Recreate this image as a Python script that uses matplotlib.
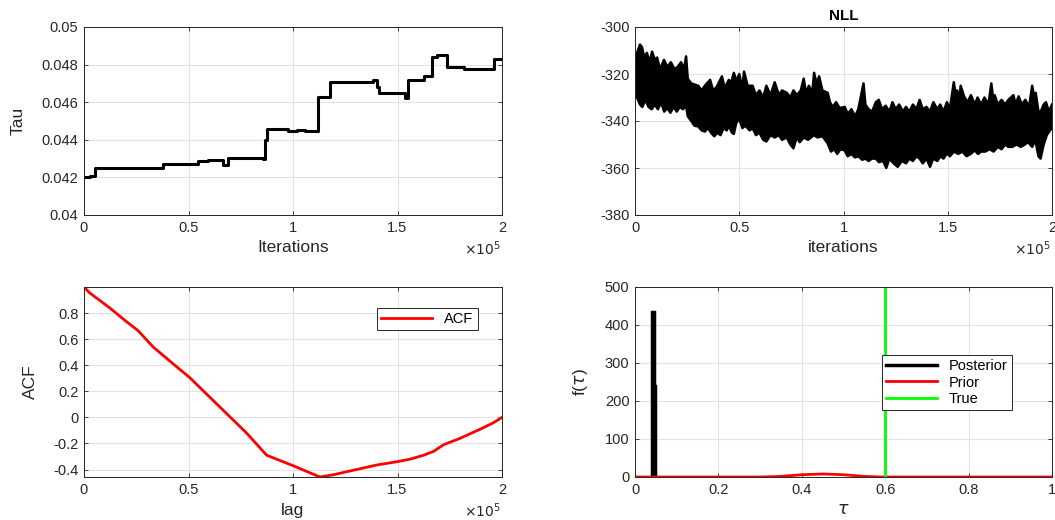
import numpy as np
import matplotlib.pyplot as plt
from matplotlib.ticker import FuncFormatter

plt.rcParams['font.family'] = ['Liberation Sans', 'DejaVu Sans']
plt.rcParams['axes.unicode_minus'] = False

# Tau trace (step changes): iteration, value
tau_it = [0, 2700, 5100, 38000, 54600, 59400, 66600, 69000, 85800, 86600, 87600,
          97800, 101800, 105700, 112100, 117700, 130500, 138500, 140000, 141000,
          153700, 154800, 162500, 166500, 169000, 173700, 181600, 196000, 200000]
tau_val = [0.0420, 0.04205, 0.0425, 0.0427, 0.04285, 0.0429, 0.04268, 0.04305,
           0.0430, 0.0440, 0.04458, 0.04448, 0.0445, 0.04445, 0.0463, 0.0471,
           0.04705, 0.0472, 0.0468, 0.04649, 0.0462, 0.0472, 0.0474, 0.04838,
           0.04852, 0.04785, 0.04775, 0.04832, 0.04832]

# NLL trace envelope (upper / lower), iteration in thousands
nll_up_k = [0, 1.0, 2.4, 3.3, 4.5, 5.7, 7, 8.2, 9.5, 10.6, 12, 13.9, 15.5, 17.2, 19,
            20.4, 22.1, 23.5, 24.5, 25.3, 27, 30.3, 32, 33.5, 36.0, 37.5, 39.2, 41.7,
            43, 45.0, 46, 47.4, 48.7, 50, 51.5, 52.3, 54, 56.4, 58, 59.7, 61.5, 63, 65,
            67, 69, 70.5, 72.8, 74.5, 76, 77.7, 79.5, 80.9, 82, 83.4, 85, 85.9, 87,
            88.3, 89.9, 92.4, 93.5, 94.8, 96.5, 98.1, 100.6, 102, 103.8, 105.5, 107.1,
            109.6, 110.5, 112, 113.7, 115.5, 116.9, 118.5, 120.2, 122, 123.5, 125,
            126.7, 128.5, 130, 131.5, 133.3, 135, 136.5, 138, 139.8, 141.5, 143.1, 145,
            146.4, 148, 149.6, 151, 152.9, 154, 154.5, 155.5, 156.2, 157.8, 159.5,
            161.1, 163, 164.3, 166, 167.6, 169.5, 170.9, 171.7, 172.5, 174, 175.8,
            177.5, 179.1, 181.5, 182.5, 184, 185.5, 187.2, 189, 190.5, 191.5, 192.2,
            193.5, 194.6, 196, 197.1, 198.5, 200]
nll_up = [-321, -311, -307.5, -308.5, -313, -311, -315, -310.5, -314, -313, -318, -314,
          -317, -315, -318, -317, -315, -318, -312.5, -322, -324, -325, -327, -325,
          -322.5, -327, -325.5, -321, -326, -322.5, -324, -319.5, -323, -320, -326,
          -319, -325, -325, -329, -327, -330, -325, -329, -323.5, -329, -327, -328,
          -330, -327, -329, -327, -322, -328, -325, -328, -319.5, -324, -321, -327,
          -328, -332, -334, -332, -334.5, -334, -337, -335, -338, -335, -324, -333,
          -335, -336, -332, -331, -335, -333.5, -336, -332, -335, -333, -336, -334,
          -336, -333, -335, -331, -335, -334, -336, -332, -335, -333, -336, -332,
          -335, -323.5, -330, -327, -331, -325, -329.5, -332, -329, -333, -330, -333,
          -330, -333, -324, -330, -329, -333, -331, -333, -331, -329, -333, -329.5,
          -333, -331, -334, -325, -330, -328, -336, -336, -333, -332, -336, -333]
nll_lo_k = [0, 1, 2.4, 3.5, 5, 6.5, 8, 9.5, 11, 12.5, 14, 15.5, 17, 18.5, 20, 21.5, 23,
            24.5, 25.3, 27, 28.5, 30.3, 32, 33.5, 35, 36.5, 38, 39.5, 41, 42.5, 44, 45,
            46.5, 47.4, 48.5, 50, 51.5, 53, 55, 56.4, 58, 59.7, 61.5, 63, 65, 67, 69,
            70.5, 72.8, 74.5, 76, 77.5, 79, 80.9, 83, 85.9, 87.5, 89.9, 92.4, 94, 95.5,
            97, 98.5, 100.6, 102, 103.8, 105.5, 107.1, 109, 110.5, 112, 113.7, 115.5,
            117, 119, 120.5, 122, 124, 126, 128, 130, 131.5, 133.3, 135, 136.5, 138,
            139.8, 141.5, 143, 145, 146.5, 148, 149.6, 151, 153, 155, 157, 159, 161,
            163, 164.5, 166, 168, 170, 172, 174, 175.8, 177.5, 179, 181, 183, 185, 187,
            188.5, 190.5, 192, 193.5, 194.5, 196, 197.5, 199, 200]
nll_lo = [-327, -330, -333, -334, -331, -334, -335, -333, -335, -332, -336, -334.5,
          -336.5, -334, -336, -334, -335, -333.5, -338, -340, -342, -342.3, -344,
          -344.5, -343, -345, -346.5, -345, -346, -343, -344, -342, -345, -345.5, -341,
          -339, -343, -342, -344, -343, -346, -345, -348, -348.7, -346, -347, -346,
          -348, -347, -350, -351.6, -347, -349, -347, -348, -346, -347, -346.5, -349.5,
          -353, -352, -354, -352, -352.5, -355, -354, -355.5, -355, -356.5, -356, -357,
          -356, -356, -357.5, -357, -360, -356, -358, -359.5, -357, -358, -356, -357,
          -355, -356, -358, -356, -359.5, -356, -357, -355, -356, -353.7, -355, -353,
          -354, -353, -355, -354, -352.5, -354, -353, -353, -352, -353, -351, -352,
          -350, -351, -351, -350, -351, -350, -349, -351, -348, -355, -356, -350, -346,
          -344, -343]

# autocorrelation
lag = [0, 2700, 12300, 19500, 25900, 33100, 42700, 50600, 58600, 68200, 77800, 87400,
       100000, 112900, 119300, 128900, 140100, 149700, 156100, 162500, 167300, 172000,
       180000, 189600, 196000, 200000]
acf = [1.0, 0.955, 0.84, 0.745, 0.665, 0.54, 0.41, 0.305, 0.18, 0.03, -0.12, -0.29,
       -0.37, -0.457, -0.44, -0.405, -0.365, -0.34, -0.32, -0.29, -0.26, -0.21, -0.16,
       -0.09, -0.04, 0.0]

# densities
post_edges = [0.041, 0.046, 0.049]
post_dens = [435, 240]
prior_tau = [0, 0.30, 0.35, 0.40, 0.45, 0.50, 0.55, 0.59, 1.0]
prior_dens = [0, 0, 1.5, 6, 8, 6, 1.5, 0, 0]
tau_true = 0.6

W, H = 1055, 520
GRIS = '#262626'
fig = plt.figure(figsize=(W / 100, H / 100), dpi=100)


def caja(x0, y0, x1, y1):
    ax = fig.add_axes([x0 / W, 1 - y1 / H, (x1 - x0) / W, (y1 - y0) / H])
    ax.tick_params(direction='in', top=True, right=True, labelsize=10.5,
                   length=3, width=0.6, colors=GRIS, pad=4)
    for s in ax.spines.values():
        s.set_color(GRIS)
        s.set_linewidth(0.7)
    ax.grid(True, color='#e3e3e3', linewidth=0.8)
    ax.set_axisbelow(True)
    ax.alto = y1 - y0
    ax.ancho = x1 - x0
    return ax


def etiquetas(ax, xlabel, ylabel=None, ypx=60, escala=True):
    ax.set_xlabel(xlabel, fontsize=12.5, color=GRIS)
    ax.xaxis.set_label_coords(0.5, -33 / ax.alto)
    ax.xaxis.label.set_verticalalignment('center')
    if ylabel:
        ax.set_ylabel(ylabel, fontsize=12.5, color=GRIS)
        ax.yaxis.set_label_coords(-ypx / ax.ancho, 0.5)
        ax.yaxis.label.set_verticalalignment('center')
    if escala:
        ax.xaxis.set_major_formatter(FuncFormatter(lambda v, p: f'{v / 1e5:g}'))
        ax.text(0.997, -34 / ax.alto, r'$\times10^5$', transform=ax.transAxes,
                ha='right', va='center', fontsize=10, color=GRIS)


fmt_g = FuncFormatter(lambda v, p: f'{v:g}')

# Tau
ax1 = caja(84, 27, 502, 215)
ax1.step(tau_it, tau_val, where='post', color='black', linewidth=2.2)
ax1.set_xlim(0, 2e5)
ax1.set_ylim(0.04, 0.05)
ax1.set_xticks([0, 0.5e5, 1e5, 1.5e5, 2e5])
ax1.set_yticks([0.04, 0.042, 0.044, 0.046, 0.048, 0.05])
ax1.yaxis.set_major_formatter(fmt_g)
etiquetas(ax1, 'Iterations', 'Tau', ypx=66)

# NLL
ax2 = caja(635, 27, 1052, 215)
ux = np.array(nll_up_k) * 1000
lx = np.array(nll_lo_k) * 1000
ax2.fill(np.concatenate([ux, lx[::-1]]), np.concatenate([nll_up, nll_lo[::-1]]),
         color='black', linewidth=0)
ax2.plot(ux, nll_up, color='black', linewidth=1.8)
ax2.plot(lx, nll_lo, color='black', linewidth=1.8)
ax2.set_xlim(0, 2e5)
ax2.set_ylim(-380, -300)
ax2.set_xticks([0, 0.5e5, 1e5, 1.5e5, 2e5])
ax2.set_yticks([-380, -360, -340, -320, -300])
etiquetas(ax2, 'iterations')
ax2.set_title('NLL', fontsize=11, fontweight='bold', pad=5, color='black')

# ACF
ax3 = caja(84, 287, 502, 477)
ax3.plot(lag, acf, color='red', linewidth=2, label='ACF')
ax3.set_xlim(0, 2e5)
ax3.set_ylim(-0.457, 1.0)
ax3.set_xticks([0, 0.5e5, 1e5, 1.5e5, 2e5])
ax3.set_yticks([-0.4, -0.2, 0, 0.2, 0.4, 0.6, 0.8])
ax3.yaxis.set_major_formatter(fmt_g)
etiquetas(ax3, 'lag', 'ACF', ypx=54)
leg = ax3.legend(loc='upper right', bbox_to_anchor=(0.959, 0.93), fontsize=10.5,
                 fancybox=False, edgecolor=GRIS, handlelength=3.5,
                 borderpad=0.3, framealpha=1)
leg.get_frame().set_linewidth(0.7)

# densities
ax4 = caja(635, 287, 1052, 477)
ax4.bar(post_edges[:-1], post_dens, width=np.diff(post_edges), align='edge',
        color='black', edgecolor='black', linewidth=2.5)
ax4.plot([], [], color='black', linewidth=2.5, label='Posterior')
ax4.plot(prior_tau, prior_dens, color='red', linewidth=2, label='Prior')
ax4.plot([tau_true, tau_true], [0, 500], color='#00ff00', linewidth=2, label='True')
ax4.set_xlim(0, 1)
ax4.set_ylim(0, 500)
ax4.set_xticks([0, 0.2, 0.4, 0.6, 0.8, 1])
ax4.xaxis.set_major_formatter(fmt_g)
etiquetas(ax4, r'$\tau$', r'f($\tau$)', ypx=55, escala=False)
leg = ax4.legend(loc='center', bbox_to_anchor=(0.748, 0.497), fontsize=10.5,
                 fancybox=False, edgecolor=GRIS, handlelength=3.5,
                 borderpad=0.3, labelspacing=0.15, framealpha=1)
leg.get_frame().set_linewidth(0.7)

fig.savefig('out.png', dpi=100)
